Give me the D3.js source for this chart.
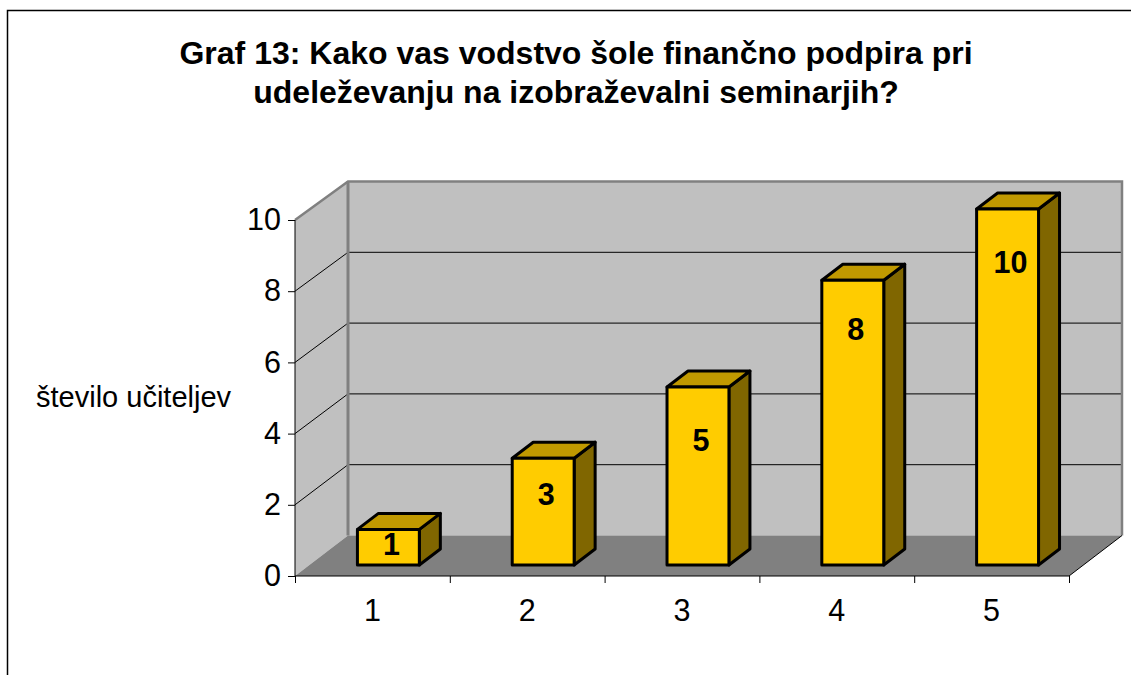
<!DOCTYPE html>
<html>
<head>
<meta charset="utf-8">
<title>Graf 13</title>
<style>
    html, body {margin: 0; padding: 0; background: white; overflow: hidden;}
    svg {display: block;}
    text {font-family: "Liberation Sans", Arial, sans-serif; fill: black;}
    .title {font-size: 32px; font-weight: bold; text-anchor: middle;}
    .tick text {font-size: 30.5px; font-family: "Liberation Sans", Arial, sans-serif;}
    .ylabel {font-size: 29px;}
    .barlabel {font-size: 30.5px; font-weight: bold; text-anchor: middle;}
</style>
</head>
<body>
<svg id="chart" width="1131" height="675"></svg>
<script src="https://d3js.org/d3.v7.min.js"></script>
<script>
const titleLines = ["Graf 13: Kako vas vodstvo šole finančno podpira pri", "udeleževanju na izobraževalni seminarjih?"];
const yTitle = "število učiteljev";
const categories = ["1", "2", "3", "4", "5"];
const values = [1, 3, 5, 8, 10];
const yTicks = [0, 2, 4, 6, 8, 10];

const svg = d3.select("#chart");

// front plane of the 3d box
const plotL = 295, plotR = 1069, plotB = 576, plotT = 220;
const depthX = 53, depthY = 41;   // floor depth
const barDepthX = 21, barDepthY = 16;
const barLift = 11;               // bars stand a bit inside the floor

const x = d3.scaleBand().domain(categories).range([plotL, plotR]);
const xEdge = d3.scaleLinear().domain([0, categories.length]).range([plotL, plotR]);
const y = d3.scaleLinear().domain([0, 10]).range([plotB, plotT]);
const yBack = d3.scaleLinear().domain([0, 10]).range([plotB - depthY + 0.5, 181.5]);

// outer chart border, runs off the page on the right and bottom
svg.append("path")
    .attr("d", "M7.5,675V10.5H1131")
    .attr("fill", "none").attr("stroke", "black").attr("stroke-width", 1.5);

// title
svg.selectAll(".title").data(titleLines).join("text")
    .attr("class", "title")
    .attr("x", 576)
    .attr("y", (d, i) => 64 + i * 39)
    .text(d => d);

// walls and floor
const wallPts = [[plotL + depthX, yBack(10)], [plotR + depthX, yBack(10)], [plotR + depthX, yBack(0)], [plotL + depthX, yBack(0)]];
svg.append("polygon").attr("points", wallPts.join(" ")).attr("fill", "#c0c0c0");
svg.append("polygon")
    .attr("points", [[plotL, y(10)], [plotL + depthX, yBack(10)], [plotL + depthX, yBack(0)], [plotL, y(0)]].join(" "))
    .attr("fill", "#c0c0c0");
svg.append("polygon")
    .attr("points", [[plotL, plotB], [plotL + depthX, yBack(0)], [plotR + depthX, yBack(0)], [plotR, plotB]].join(" "))
    .attr("fill", "#808080");

// gridlines on back and side wall
const grid = svg.append("g").attr("fill", "none").attr("stroke", "black").attr("stroke-width", 1);
yTicks.filter(d => d > 0 && d < 10).forEach(d => {
    grid.append("path").attr("d", d3.line()([[plotL, y(d)], [plotL + depthX, yBack(d)], [plotR + depthX, yBack(d)]]));
});

// wall outline
svg.append("path")
    .attr("d", d3.line()([[plotL, y(10)], [plotL + depthX, yBack(10)], [plotR + depthX, yBack(10)], [plotR + depthX, yBack(0)]]))
    .attr("fill", "none").attr("stroke", "#808080").attr("stroke-width", 2.5);
svg.append("path")
    .attr("d", d3.line()([[plotL + depthX, yBack(10)], [plotL + depthX, yBack(0)]]))
    .attr("fill", "none").attr("stroke", "#808080").attr("stroke-width", 3);
svg.append("path")
    .attr("d", d3.line()([[plotR, plotB], [plotR + depthX, yBack(0)]]))
    .attr("fill", "none").attr("stroke", "black").attr("stroke-width", 1);

// bars
const barW = x.bandwidth() * 0.4;
const barX = d => x(d) + x.bandwidth() * 0.4 + 0.5;
const labelDrop = [16, 37, 54, 50, 54];

const bars = svg.selectAll(".bar").data(values).join("g")
    .attr("class", "bar")
    .attr("stroke", "black").attr("stroke-width", 3).attr("stroke-linejoin", "round");

const base = plotB - barLift;
const barTop = d => y(d) - barLift;

bars.append("polygon")   // side
    .attr("fill", "#806600")
    .attr("points", (d, i) => {
        const r = barX(categories[i]) + barW;
        return [[r, barTop(d)], [r + barDepthX, barTop(d) - barDepthY], [r + barDepthX, base - barDepthY], [r, base]].join(" ");
    });
bars.append("polygon")   // top
    .attr("fill", "#c09900")
    .attr("points", (d, i) => {
        const l = barX(categories[i]);
        return [[l, barTop(d)], [l + barDepthX, barTop(d) - barDepthY], [l + barW + barDepthX, barTop(d) - barDepthY], [l + barW, barTop(d)]].join(" ");
    });
bars.append("rect")      // front
    .attr("fill", "#ffcc00")
    .attr("x", (d, i) => barX(categories[i]))
    .attr("y", d => barTop(d))
    .attr("width", barW)
    .attr("height", d => base - barTop(d));

svg.selectAll(".barlabel").data(values).join("text")
    .attr("class", "barlabel")
    .attr("x", (d, i) => barX(categories[i]) + barW / 2 + 3)
    .attr("y", (d, i) => barTop(d) + labelDrop[i] + 10)
    .text(d => d);

// axes
const yAxis = d3.axisLeft(y).tickValues(yTicks).tickSize(7).tickPadding(7);
svg.append("g").attr("transform", `translate(${plotL},0)`).call(yAxis)
    .call(g => g.selectAll("line").attr("stroke", "black"))
    .call(g => g.select(".domain").attr("stroke", "black").attr("d", `M0,${plotT}V${plotB}`));

const xTickAxis = d3.axisBottom(xEdge).ticks(categories.length).tickSize(7).tickFormat("");
svg.append("g").attr("transform", `translate(0,${plotB})`).call(xTickAxis)
    .call(g => g.selectAll("line").attr("stroke", "black"))
    .call(g => g.select(".domain").attr("stroke", "black").attr("d", `M${plotL},0H${plotR}`));

const xAxis = d3.axisBottom(x).tickSize(0).tickPadding(23);
svg.append("g").attr("transform", `translate(0,${plotB})`).call(xAxis)
    .call(g => g.select(".domain").remove());

svg.append("text").attr("class", "ylabel").attr("x", 36).attr("y", 407).text(yTitle);
</script>
</body>
</html>
